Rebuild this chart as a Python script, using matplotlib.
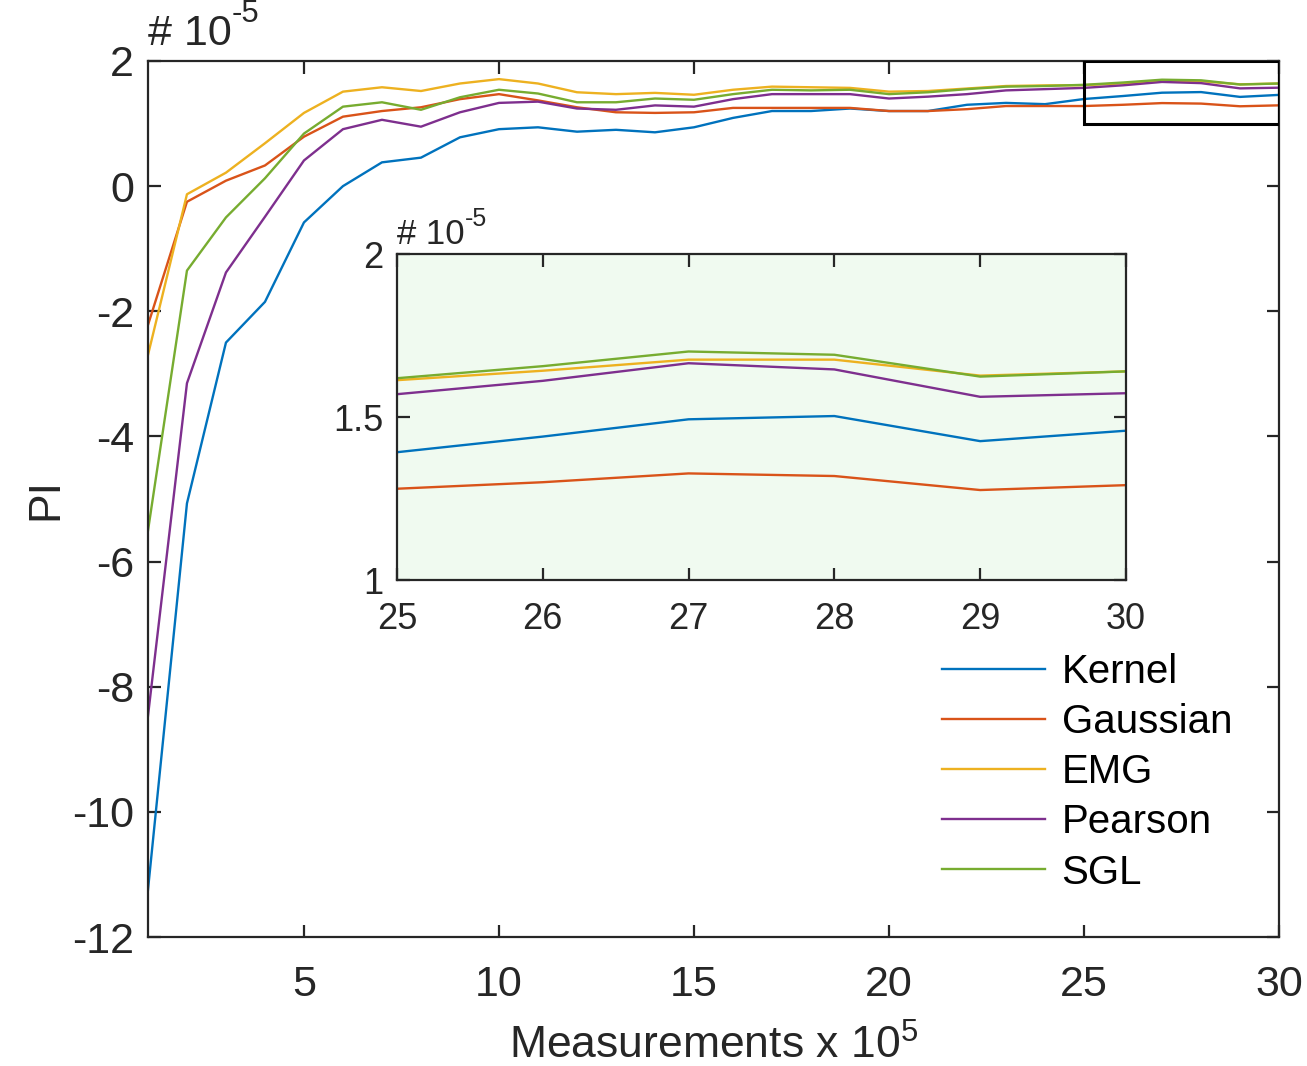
import numpy as np
import matplotlib
matplotlib.use("Agg")
from matplotlib import pyplot as plt
from matplotlib.patches import Rectangle

plt.rcParams['font.family'] = ['Liberation Sans', 'DejaVu Sans']
plt.rcParams['axes.unicode_minus'] = False
plt.rcParams['mathtext.fontset'] = 'custom'
plt.rcParams['mathtext.rm'] = 'Liberation Sans'
plt.rcParams['mathtext.it'] = 'Liberation Sans:italic'
plt.rcParams['mathtext.bf'] = 'Liberation Sans:bold'

# PI values in units of 1e-5, one point per 1e5 measurements
x = np.arange(1, 31)
kernel = [-11.25, -5.07, -2.50, -1.85, -0.58, 0.00, 0.38, 0.455, 0.78, 0.91,
          0.94, 0.87, 0.90, 0.86, 0.94, 1.09, 1.20, 1.20, 1.24, 1.20,
          1.20, 1.30, 1.33, 1.31, 1.392, 1.44, 1.493, 1.503, 1.426, 1.458]
gaussian = [-2.22, -0.25, 0.087, 0.33, 0.79, 1.11, 1.20, 1.26, 1.39, 1.47,
            1.37, 1.26, 1.18, 1.17, 1.18, 1.25, 1.25, 1.25, 1.25, 1.20,
            1.20, 1.23, 1.28, 1.28, 1.280, 1.300, 1.327, 1.319, 1.276, 1.291]
emg = [-2.70, -0.13, 0.215, 0.685, 1.17, 1.51, 1.58, 1.52, 1.64, 1.71,
       1.64, 1.50, 1.47, 1.49, 1.46, 1.54, 1.59, 1.58, 1.57, 1.51,
       1.52, 1.56, 1.60, 1.61, 1.613, 1.642, 1.676, 1.676, 1.627, 1.640]
pearson = [-8.47, -3.15, -1.38, -0.49, 0.41, 0.91, 1.06, 0.95, 1.18, 1.33,
           1.35, 1.24, 1.22, 1.29, 1.27, 1.39, 1.47, 1.47, 1.47, 1.40,
           1.43, 1.47, 1.53, 1.55, 1.570, 1.611, 1.665, 1.646, 1.562, 1.573]
sgl = [-5.51, -1.35, -0.50, 0.125, 0.84, 1.27, 1.34, 1.22, 1.42, 1.54,
       1.48, 1.34, 1.34, 1.40, 1.38, 1.47, 1.54, 1.53, 1.54, 1.47,
       1.50, 1.55, 1.59, 1.60, 1.619, 1.656, 1.701, 1.691, 1.624, 1.640]

names = ["Kernel", "Gaussian", "EMG", "Pearson", "SGL"]
colors = ["#0072BD", "#D95319", "#EDB120", "#7E2F8E", "#77AC30"]
series = [kernel, gaussian, emg, pearson, sgl]

xticks = [5, 10, 15, 20, 25, 30]
yticks = [-12, -10, -8, -6, -4, -2, 0, 2]
inset_xticks = [25, 26, 27, 28, 29, 30]
inset_yticks = [1, 1.5, 2]
zoom_lo = 25
dark = "#262626"


def style_axes(ax, size):
  for s in ax.spines.values():
    s.set_linewidth(1.6)
    s.set_color(dark)
  ax.tick_params(direction="in", top=True, right=True, length=9, width=1.6,
                 labelsize=size, colors=dark, labelcolor=dark)


def exponent_label(ax, size):
  # "# 10" with a raised "-5", the way the multiplier sits above the axes
  t = ax.text(0.0, 1.008, "# 10", transform=ax.transAxes, fontsize=size,
              color=dark, ha="left", va="bottom")
  ax.annotate("-5", xy=(1, 0.62), xycoords=t, fontsize=size * 0.72,
              color=dark, ha="left", va="bottom")


fig = plt.figure(figsize=(13.07, 10.66), dpi=100)
ax = fig.add_axes([0.1132, 0.1210, 0.8654, 0.8218])
for ys, c, n in zip(series, colors, names):
  ax.plot(x, ys, color=c, lw=1.7, label=n)
ax.set_xlim(1, 30)
ax.set_ylim(-12, 2)
ax.set_xticks(xticks)
ax.set_yticks(yticks)
style_axes(ax, 31)
ax.tick_params(axis="x", pad=20)
ax.tick_params(axis="y", pad=10)
ax.set_xlabel("Measurements x 10$^5$", fontsize=32, color=dark, labelpad=14)
ax.set_ylabel("PI", fontsize=32, color=dark, labelpad=4)
exponent_label(ax, 31)
ax.add_patch(Rectangle((zoom_lo, 1), 30 - zoom_lo, 1, fill=False, lw=2.2, ec="black", zorder=5))

ax.legend(loc="upper left", bbox_to_anchor=(0.702, 0.324), frameon=False,
          fontsize=29, handlelength=2.55, handletextpad=0.42, labelspacing=0.3,
          borderpad=0, borderaxespad=0)

# zoomed view of the last few points
axi = fig.add_axes([0.3037, 0.4559, 0.5578, 0.3058])
axi.set_facecolor("#f0faf0")
k = zoom_lo - 1
for ys, c in zip(series, colors):
  axi.plot(x[k:], ys[k:], color=c, lw=1.7)
axi.set_xlim(25, 30)
axi.set_ylim(1, 2)
axi.set_xticks(inset_xticks)
axi.set_yticks(inset_yticks)
axi.set_yticklabels(["1", "1.5", "2"])
style_axes(axi, 26)
axi.tick_params(axis="x", pad=16)
axi.tick_params(axis="y", pad=10)
exponent_label(axi, 25)

plt.savefig("out.png", dpi=100)
